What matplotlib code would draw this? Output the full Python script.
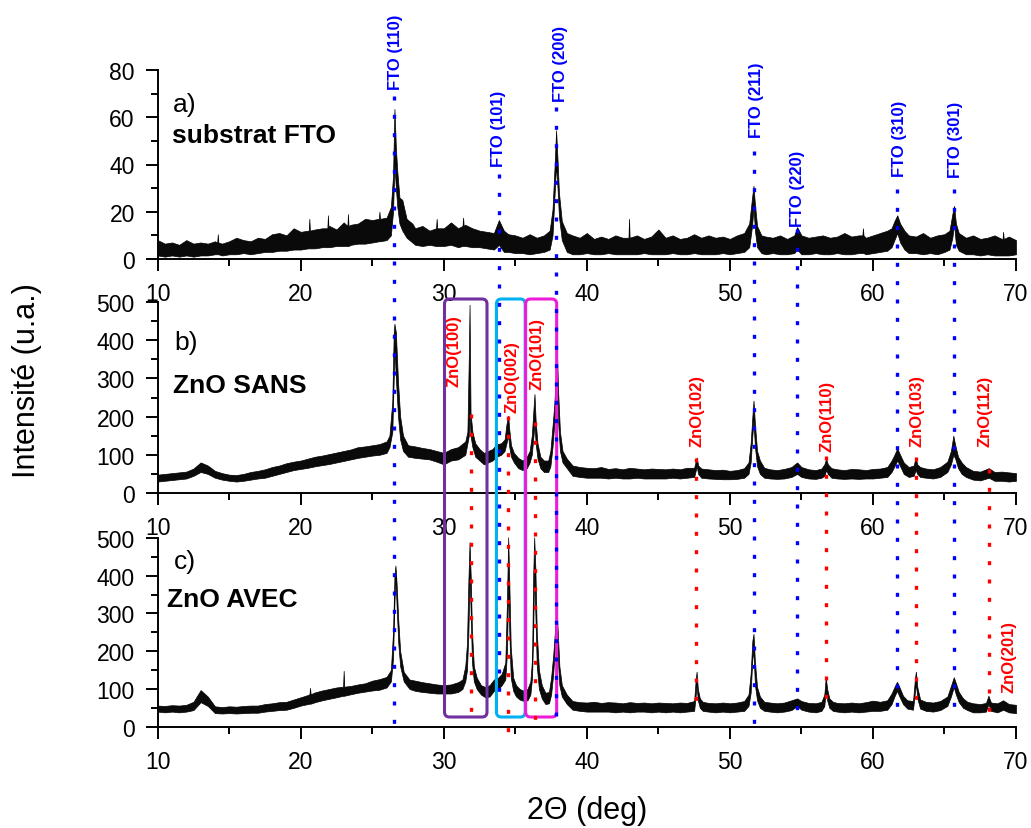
import matplotlib
matplotlib.use("Agg")
import matplotlib.pyplot as plt
from matplotlib.patches import FancyBboxPatch
from matplotlib.ticker import MultipleLocator

plt.rcParams['font.family'] = ['Liberation Sans', 'DejaVu Sans']

# ---------------------------------------------------------------------------
# XRD patterns: 2-theta positions with the lower / upper edge of the noisy trace
# ---------------------------------------------------------------------------
# a) bare FTO substrate
a_x = [10, 10.5, 11, 11.5, 12, 12.5, 13, 13.5, 14,
       14.16, 14.2, 14.24, 14.5, 15, 15.5, 16, 16.5, 17,
       17.5, 18, 18.5, 19, 19.5, 20, 20.5, 20.56, 20.6, 20.64,
       21, 21.5, 21.86, 21.9, 21.94, 22, 22.5, 23, 23.26, 23.3, 23.34,
       23.5, 24, 24.5, 25, 25.46, 25.5, 25.54, 26,
       26.3, 26.45, 26.55, 26.65, 26.75, 26.9, 27.1, 27.4, 27.8,
       28, 28.5, 29, 29.46, 29.5, 29.54, 30, 30.5, 31,
       31.31, 31.35, 31.39, 31.5, 32, 32.5, 33, 33.5, 33.85,
       34.2, 34.5, 35, 35.5, 36, 36.5, 37, 37.4,
       37.6, 37.75, 37.85, 37.95, 38.05, 38.25, 38.6,
       39, 39.5, 40, 40.5, 41, 41.5, 42, 42.5, 42.91, 42.95, 42.99,
       43.5, 44, 44.5, 45, 45.5, 46, 46.5, 47, 47.5, 48,
       48.5, 49, 49.5, 50, 50.5, 51,
       51.35, 51.55, 51.65, 51.75, 51.9, 52.2,
       52.5, 53, 53.5, 54, 54.5, 54.7, 55, 55.5, 56, 56.5,
       57, 57.5, 58, 58.5, 59, 59.26, 59.3, 59.34, 59.5, 60, 60.5, 61,
       61.3, 61.5, 61.7, 61.9, 62.2,
       62.5, 63, 63.5, 64, 64.5, 65,
       65.35, 65.55, 65.67, 65.8, 66.0,
       66.5, 67, 67.5, 68, 68.5, 69, 69.06, 69.1, 69.14, 69.5, 70]
a_lo = [1.5, 1, 1.5, 1, 1.5, 1, 1.5, 1.5, 2,
        2, 2, 2, 1.5, 2, 2, 2.5, 2, 2.5,
        3, 3, 3.5, 3.5, 4, 4, 4.5, 4.5, 4.5, 4.5,
        4.5, 5, 5, 5, 5, 5, 5.5, 5.5, 5.5, 5.5, 5.5,
        6, 6.5, 6.5, 7, 7.5, 7.5, 7.5, 8,
        10, 20, 40, 30, 22, 15, 12, 9, 7,
        6, 5.5, 6, 5.5, 5.5, 5.5, 5.5, 6, 5,
        5.5, 5.5, 5.5, 5.5, 5, 5, 4.5, 4, 6,
        3, 3, 2.5, 2.5, 2, 2.5, 3, 4,
        10, 28, 40, 30, 18, 8, 3,
        2, 2, 2.5, 2, 2, 2.5, 2, 2, 2, 2, 2,
        2, 2.5, 2, 2, 2, 2.5, 2, 2, 2.5, 2,
        2, 2, 2.5, 2, 2.5, 3,
        5, 14, 22, 12, 5, 2.5,
        2, 2.5, 2, 2, 2.5, 4, 2, 2, 2.5, 2,
        2, 2.5, 2, 2, 2.5, 2.5, 2.5, 2.5, 2, 2.5, 3, 3.5,
        5, 8, 11, 7, 4,
        2.5, 2.5, 2, 2.5, 2, 3,
        4, 9, 15, 6, 3.5,
        2, 2, 1.5, 2, 1.5, 1.5, 1.5, 1.5, 1.5, 1.5, 2]
a_hi = [8, 6.5, 7, 6, 8, 6.5, 7, 6.5, 7.5,
        7, 10.5, 7, 6.5, 7.5, 9, 8, 7.5, 9,
        8.5, 10.5, 11, 10, 13, 11.5, 12, 12, 17, 12,
        12.5, 13, 13, 18.5, 13, 14, 12.5, 15.5, 14, 19, 14,
        14.5, 15, 17, 16.5, 17, 20, 17, 17.5,
        22, 35, 63.5, 47, 37, 26, 25, 17, 15,
        13, 14, 12, 13, 17, 13, 13, 15.5, 13,
        14, 17.5, 14, 14.5, 13, 12, 11.5, 11, 16.5,
        12, 10.5, 10, 9, 10.5, 9, 10, 12,
        21, 40, 54.5, 42, 28, 16, 11,
        10, 9, 11, 8.5, 9.5, 8.5, 10, 9, 9, 17, 9,
        10, 8.5, 9.5, 12.5, 9, 10, 8.5, 9, 10.5, 9,
        10, 9, 9.5, 8.5, 10, 11,
        15, 26, 31, 23, 14, 10,
        9.5, 9, 10, 8.5, 10, 13.5, 10, 9, 9.5, 10,
        9, 9.5, 11, 9.5, 10, 10, 13, 10, 9, 10, 11, 12,
        13, 16, 18.5, 15, 12,
        10, 9.5, 11, 9, 10, 10.5,
        12, 19, 22.5, 15, 11,
        9, 10, 8.5, 9, 10, 8.5, 8.5, 11.5, 8.5, 9.5, 8]

# b) ZnO layer, "SANS"
b_x = [10, 10.5, 11, 11.5, 12, 12.5, 13, 13.5, 14, 14.5,
       15, 15.5, 16, 16.5, 17, 17.5, 18, 18.5, 19, 19.5,
       20, 20.5, 21, 21.5, 22, 22.5, 23, 23.5, 24, 24.5,
       25, 25.5, 26,
       26.2, 26.4, 26.5, 26.55, 26.65, 26.8, 26.95, 27.15, 27.5,
       28, 28.5, 29, 29.5, 30, 30.5, 31, 31.5,
       31.65, 31.75, 31.8, 31.87, 32.0, 32.2, 32.5,
       32.8, 33.1, 33.4, 33.7, 34.0,
       34.25, 34.38, 34.5, 34.58, 34.7, 34.9,
       35.2, 35.5, 35.8,
       36.0, 36.15, 36.27, 36.34, 36.42, 36.55, 36.75, 37.0, 37.3,
       37.45, 37.6, 37.72, 37.82, 37.92, 38.0, 38.12, 38.3, 38.6,
       39, 39.5, 40, 40.5, 41, 41.5, 42, 42.5, 43, 43.5,
       44, 44.5, 45, 45.5, 46, 46.5, 47,
       47.5, 47.62, 47.68, 47.78, 48.0,
       48.5, 49, 49.5, 50, 50.5, 51,
       51.3, 51.45, 51.57, 51.65, 51.75, 51.9, 52.1, 52.4,
       52.8, 53.3, 53.8, 54.3, 54.7, 55.0, 55.5, 56, 56.4,
       56.6, 56.73, 56.85, 57.1,
       57.5, 58, 58.5, 59, 59.5, 60, 60.5, 61,
       61.3, 61.5, 61.7, 61.9, 62.15, 62.5,
       62.85, 62.98, 63.1, 63.3,
       63.7, 64.2, 64.7,
       65.2, 65.45, 65.62, 65.75, 65.95, 66.2, 66.5,
       67, 67.5, 68.1, 68.5, 69, 69.5, 70]
b_lo = [30, 32, 34, 36, 38, 45, 55, 50, 40, 35,
        32, 30, 32, 35, 38, 40, 45, 50, 55, 60,
        63, 66, 70, 73, 76, 80, 84, 88, 92, 95,
        98, 100, 105,
        120, 160, 300, 380, 300, 200, 140, 110, 95,
        92, 90, 88, 82, 75, 85, 88, 100,
        130, 150, 200, 150, 120, 95, 85,
        75, 80, 85, 95, 100,
        110, 130, 150, 120, 95, 80,
        65, 60, 65,
        80, 100, 150, 180, 130, 90, 65, 55, 55,
        70, 120, 180, 230, 280, 180, 110, 80, 65,
        45, 42, 40, 40, 40, 38, 40, 38, 38, 40,
        38, 38, 38, 38, 40, 38, 40,
        42, 60, 70, 50, 40,
        38, 37, 36, 36, 37, 40,
        50, 80, 150, 190, 120, 70, 50, 40,
        38, 37, 38, 42, 50, 42, 38, 37, 40,
        45, 60, 50, 40,
        38, 37, 38, 37, 38, 38, 40, 42,
        55, 70, 85, 70, 50, 42,
        45, 60, 50, 42,
        40, 38, 42,
        55, 75, 100, 90, 65, 50, 42,
        35, 33, 40, 32, 32, 30, 32]
b_hi = [48, 50, 52, 54, 56, 64, 80, 72, 58, 52,
        48, 47, 50, 55, 58, 62, 68, 72, 78, 82,
        85, 90, 95, 98, 102, 106, 110, 114, 120, 122,
        125, 128, 135,
        150, 240, 420, 443, 420, 290, 200, 150, 125,
        122, 118, 115, 110, 105, 115, 120, 135,
        160, 360, 493, 210, 160, 130, 115,
        105, 110, 115, 128, 130,
        140, 180, 202, 165, 125, 105,
        92, 85, 95,
        110, 150, 220, 259, 190, 130, 95, 85, 85,
        110, 175, 230, 300, 356, 260, 160, 110, 90,
        72, 68, 66, 65, 68, 63, 65, 62, 66, 64,
        62, 64, 63, 62, 64, 62, 66,
        66, 85, 93, 72, 64,
        62, 60, 61, 58, 60, 65,
        80, 130, 200, 242, 180, 110, 85, 66,
        62, 60, 63, 68, 80, 68, 62, 60, 64,
        75, 89, 75, 65,
        62, 60, 63, 62, 60, 63, 64, 68,
        85, 100, 117, 100, 80, 68,
        72, 93, 75, 68,
        64, 62, 68,
        82, 110, 150, 125, 95, 80, 68,
        58, 56, 65, 55, 56, 54, 52]

# c) ZnO layer, "AVEC"
c_x = [10, 10.5, 11, 11.5, 12, 12.5, 13, 13.5, 14, 14.5,
       15, 15.5, 16, 16.5, 17, 17.5, 18, 18.5, 19, 19.5,
       20, 20.5, 20.61, 20.65, 20.69, 21, 21.5, 22, 22.5,
       22.96, 23.0, 23.04, 23.5, 24, 24.5, 25, 25.5, 26,
       26.3, 26.45, 26.55, 26.62, 26.7, 26.82, 26.95, 27.2, 27.6,
       28, 28.5, 29, 29.5, 30, 30.5, 31,
       31.3, 31.5, 31.62, 31.72, 31.8, 31.88, 31.97, 32.1, 32.3, 32.6,
       32.9, 33.2, 33.5, 33.8, 34.05,
       34.3, 34.42, 34.5, 34.58, 34.68, 34.85, 35.05,
       35.3, 35.6, 35.85,
       36.05, 36.17, 36.25, 36.32, 36.4, 36.5, 36.65, 36.85, 37.1, 37.35,
       37.5, 37.65, 37.78, 37.88, 37.97, 38.08, 38.25, 38.6,
       39, 39.5, 40, 40.5, 41, 41.5, 42, 42.5, 43,
       43.5, 44, 44.5, 45, 45.5, 46, 46.5, 47,
       47.5, 47.6, 47.67, 47.76, 47.9, 48.1,
       48.5, 49, 49.5, 50, 50.5, 51,
       51.3, 51.45, 51.57, 51.65, 51.75, 51.9, 52.1, 52.4,
       52.8, 53.3, 53.8, 54.3, 54.7, 55.0, 55.5, 56, 56.4,
       56.6, 56.7, 56.8, 56.95, 57.2,
       57.5, 58, 58.5, 59, 59.5, 60, 60.5, 61,
       61.3, 61.5, 61.68, 61.85, 62.1, 62.4,
       62.8, 62.93, 63.0, 63.1, 63.3,
       63.7, 64.2, 64.7,
       65.2, 65.45, 65.65, 65.8, 66.0, 66.3, 66.6,
       67, 67.5, 67.9, 68.07, 68.25, 68.7, 69.1, 69.5, 70]
c_lo = [40, 38, 40, 38, 40, 44, 65, 55, 36, 35,
        36, 35, 36, 37, 37, 40, 42, 44, 45, 50,
        56, 60, 61, 61, 61, 65, 70, 74, 78,
        82, 82, 82, 86, 90, 93, 96, 98, 104,
        120, 180, 330, 400, 320, 220, 160, 120, 100,
        95, 92, 90, 88, 88, 88, 92,
        100, 120, 150, 250, 400, 300, 170, 120, 100, 85,
        78, 80, 95, 100, 110,
        125, 200, 380, 250, 130, 95, 80,
        72, 68, 70,
        85, 130, 250, 420, 300, 160, 100, 75, 60, 62,
        85, 140, 220, 270, 180, 110, 80, 60,
        45, 42, 40, 40, 40, 40, 38, 40, 38,
        40, 40, 38, 40, 38, 40, 38, 40,
        42, 80, 110, 70, 50, 42,
        40, 38, 40, 38, 40, 42,
        55, 90, 180, 200, 110, 70, 50, 42,
        40, 38, 40, 44, 55, 45, 40, 38, 42,
        55, 95, 70, 50, 42,
        40, 38, 40, 38, 40, 42, 42, 45,
        60, 80, 95, 80, 60, 48,
        45, 90, 115, 75, 48,
        42, 40, 44,
        55, 80, 105, 85, 65, 50, 44,
        38, 38, 40, 60, 42, 38, 45, 38, 36]
c_hi = [56, 55, 57, 56, 58, 66, 97, 80, 54, 52,
        54, 53, 55, 56, 56, 60, 62, 65, 66, 72,
        78, 84, 86, 103, 86, 91, 96, 100, 104,
        106, 148, 106, 108, 112, 115, 122, 126, 132,
        150, 250, 400, 427, 380, 280, 200, 145, 125,
        122, 118, 115, 112, 110, 112, 118,
        125, 160, 220, 390, 489, 400, 250, 160, 130, 110,
        105, 110, 125, 130, 140,
        170, 340, 502, 380, 210, 130, 110,
        100, 95, 100,
        120, 180, 400, 502, 420, 250, 150, 110, 90, 92,
        130, 190, 260, 312, 250, 160, 110, 85,
        68, 65, 64, 66, 63, 65, 64, 62, 65,
        63, 64, 62, 64, 63, 62, 64, 63,
        68, 120, 146, 100, 75, 66,
        63, 62, 64, 62, 64, 68,
        85, 140, 228, 246, 170, 105, 80, 66,
        64, 62, 64, 70, 75, 68, 63, 62, 66,
        85, 131, 100, 75, 66,
        63, 62, 64, 62, 65, 69, 66, 70,
        88, 105, 119, 105, 82, 70,
        68, 125, 146, 105, 72,
        66, 64, 68,
        80, 108, 131, 115, 92, 75, 66,
        62, 60, 63, 82, 64, 62, 70, 60, 58]

# Reference reflections (2-theta)
fto_pos = [26.52, 33.87, 37.87, 51.65, 54.69, 61.68, 65.67]
fto_hkl = ['(110)', '(101)', '(200)', '(211)', '(220)', '(310)', '(301)']
zno_pos = [31.93, 34.52, 36.41, 47.66, 56.73, 63.0, 68.09]
zno_hkl = ['(100)', '(002)', '(101)', '(102)', '(110)', '(103)', '(112)', '(201)']

x_ticks = [10, 20, 30, 40, 50, 60, 70]

# ---------------------------------------------------------------------------
# Layout (figure pixels)
# ---------------------------------------------------------------------------
W_PX, H_PX = 1031, 829
LEFT, RIGHT = 157.7, 1016

fto_line_top = [97, 175, 108, 152, 230, 190, 190]
fto_line_bot = [727, 705, 722, 727, 720, 712, 712]
fto_lab_x = [26.64, 33.79, 38.18, 51.87, 54.76, 61.89, 65.74]
fto_lab_y = [90, 167, 102, 138, 227, 177, 178]

zno_line_top = [415, 417, 423, 459, 457, 458, 470]
zno_line_bot = [720, 737, 730, 713, 713, 713, 713]
zno_lab_x = [30.71, 34.80, 36.49, 47.70, 56.79, 63.08, 67.84, 69.52]
zno_lab_y = [387, 413, 390, 447, 452, 447, 447, 693]

box_spans = [(30.05, 33.02), (33.68, 35.69), (35.72, 37.89)]
box_colors = ['#7030A0', '#00B0F0', '#EE1CD6']
BOX_TOP, BOX_BOT = 300, 718


def px_rect(top, bottom):
    return [LEFT / W_PX, 1 - bottom / H_PX, (RIGHT - LEFT) / W_PX, (bottom - top) / H_PX]


fig = plt.figure(figsize=(W_PX / 100, H_PX / 100), dpi=100)

ax_a = fig.add_axes(px_rect(71, 260))
ax_b = fig.add_axes(px_rect(303, 494))
ax_c = fig.add_axes(px_rect(539, 727.7))

panels = [
    (ax_a, a_x, a_lo, a_hi, 80, 20, 10, 'a)', 'substrat FTO', (0.018, 0.82), (0.0163, 0.656)),
    (ax_b, b_x, b_lo, b_hi, 500, 100, 50, 'b)', 'ZnO SANS', (0.019, 0.79), (0.018, 0.568)),
    (ax_c, c_x, c_lo, c_hi, 500, 100, 50, 'c)', 'ZnO AVEC', (0.019, 0.88), (0.0105, 0.677)),
]

for ax, xs, lo, hi, ymax, ymaj, ymin_, tag, name, tag_xy, name_xy in panels:
    ax.fill_between(xs, lo, hi, facecolor='#0a0a0a', edgecolor='black',
                    linewidth=0.5, clip_on=False, zorder=3)
    ax.set_xlim(10, 70)
    ax.set_ylim(0, ymax)
    ax.set_xticks(x_ticks)
    ax.xaxis.set_minor_locator(MultipleLocator(5))
    ax.yaxis.set_major_locator(MultipleLocator(ymaj))
    ax.yaxis.set_minor_locator(MultipleLocator(ymin_))
    for side in ('top', 'right'):
        ax.spines[side].set_visible(False)
    for side in ('left', 'bottom'):
        ax.spines[side].set_linewidth(1.4)
    ax.tick_params(which='major', direction='out', length=8.5, width=1.4,
                   labelsize=16.5, pad=8)
    ax.tick_params(which='minor', direction='out', length=5, width=1.4)
    ax.patch.set_alpha(0)
    ax.text(tag_xy[0], tag_xy[1], tag, transform=ax.transAxes, fontsize=19, va='center')
    ax.text(name_xy[0], name_xy[1], name, transform=ax.transAxes, fontsize=19,
            fontweight='bold', va='center')

# Overlay spanning the whole height: reflection markers, labels and boxes
ov = fig.add_axes([LEFT / W_PX, 0, (RIGHT - LEFT) / W_PX, 1])
ov.set_xlim(10, 70)
ov.set_ylim(H_PX, 0)
ov.axis('off')
ov.set_zorder(5)

dots = (0, (1.2, 4.3))
ov.vlines(fto_pos, fto_line_top, fto_line_bot, colors='#0000FF', linewidth=2.4, linestyles=dots)
ov.vlines(zno_pos, zno_line_top, zno_line_bot, colors='#FF0000', linewidth=2.4, linestyles=dots)

for lx, ly, hkl in zip(fto_lab_x, fto_lab_y, fto_hkl):
    ov.text(lx, ly, 'FTO ' + hkl, rotation=90, ha='center', va='bottom',
            color='#0000FF', fontsize=12, fontweight='bold')
for lx, ly, hkl in zip(zno_lab_x, zno_lab_y, zno_hkl):
    ov.text(lx, ly, 'ZnO' + hkl, rotation=90, ha='center', va='bottom',
            color='#FF0000', fontsize=12, fontweight='bold')

px_per_deg = (RIGHT - LEFT) / 60.0
for (x0, x1), col in zip(box_spans, box_colors):
    ov.add_patch(FancyBboxPatch((x0, BOX_TOP), x1 - x0, BOX_BOT - BOX_TOP,
                                boxstyle='round,pad=0,rounding_size=0.35',
                                mutation_aspect=px_per_deg, fill=False,
                                edgecolor=col, linewidth=2.2, clip_on=False))

fig.text(27.5 / W_PX, 1 - 380.5 / H_PX, 'Intensité (u.a.)', rotation=90,
         ha='center', va='center', fontsize=22)
fig.text((LEFT + RIGHT) / 2 / W_PX, 1 - 811 / H_PX, '2Θ (deg)',
         ha='center', va='center', fontsize=22)

fig.savefig('out.png', dpi=100)
